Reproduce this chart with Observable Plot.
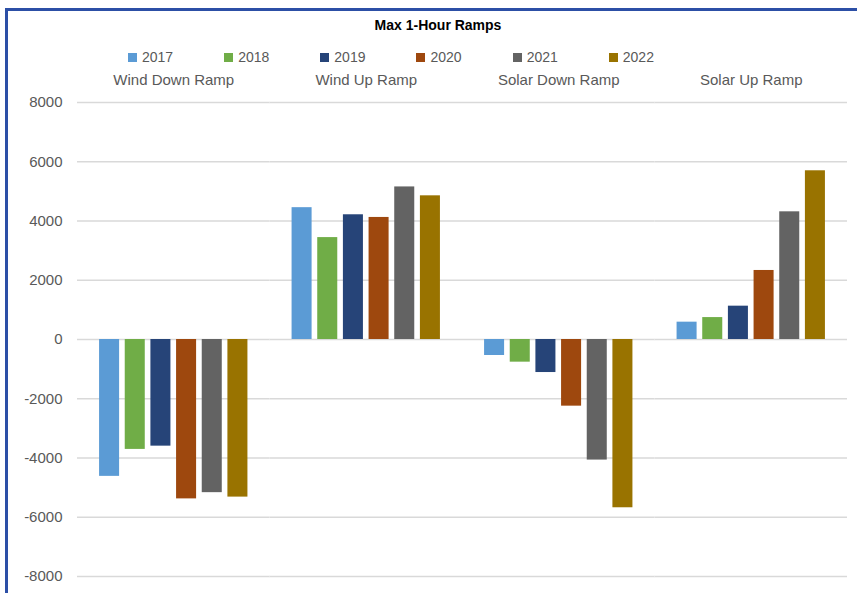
<!DOCTYPE html>
<html>
<head>
<meta charset="utf-8">
<script src="https://cdn.jsdelivr.net/npm/d3@7"></script>
<script src="https://cdn.jsdelivr.net/npm/@observablehq/plot@0.6"></script>
<style>
  html, body { margin: 0; padding: 0; background: #fff; }
  body { width: 857px; height: 593px; position: relative; overflow: hidden; font-family: "Liberation Sans", Arial, sans-serif; }
  #frame { position: absolute; left: 5px; top: 8px; width: 849px; height: 582px; border: 3px solid #2C4FA6; border-bottom-color: #b4c7e7; }
  #title { position: absolute; left: 238px; width: 400px; top: 17px; text-align: center; font-weight: bold; font-size: 14px; line-height: 16px; color: #000; }
  #legend { position: absolute; left: 128px; top: 49px; display: flex; gap: 51px; font-size: 14px; line-height: 16px; color: #595959; }
  #legend .item { display: flex; align-items: center; gap: 5px; }
  #legend .sw { width: 9px; height: 9px; display: inline-block; }
  #chart { position: absolute; left: 0; top: 66px; }
</style>
</head>
<body>
<div id="frame"></div>
<div id="title">Max 1-Hour Ramps</div>
<div id="legend"></div>
<div id="chart"></div>
<script>
const categories = ["Wind Down Ramp", "Wind Up Ramp", "Solar Down Ramp", "Solar Up Ramp"];
const years = ["2017", "2018", "2019", "2020", "2021", "2022"];
const colors = ["#5B9BD5", "#70AD47", "#264478", "#9E480E", "#636363", "#997300"];
const windDown = [-4620, -3710, -3600, -5380, -5170, -5320];
const windUp = [4450, 3440, 4210, 4120, 5150, 4850];
const solarDown = [-540, -765, -1115, -2250, -4070, -5680];
const solarUp = [585, 740, 1125, 2330, 4310, 5695];
const yTicks = [-8000, -6000, -4000, -2000, 0, 2000, 4000, 6000, 8000];

const series = [windDown, windUp, solarDown, solarUp];
const data = [];
categories.forEach((c, i) => years.forEach((y, j) => data.push({cat: c, year: y, value: series[i][j]})));

const legend = document.getElementById("legend");
years.forEach((y, j) => {
  const it = document.createElement("div");
  it.className = "item";
  it.innerHTML = `<span class="sw" style="background:${colors[j]}"></span><span>${y}</span>`;
  legend.appendChild(it);
});

const chart = Plot.plot({
  width: 857,
  height: 522,
  marginLeft: 77,
  marginRight: 10,
  marginTop: 36,
  marginBottom: 12,
  style: {fontSize: "15px", fontFamily: "'Liberation Sans', Arial, sans-serif", color: "#595959", background: "transparent"},
  fx: {domain: categories, padding: 0, label: null, round: false},
  x: {domain: years, paddingInner: 0.22, paddingOuter: 0.86, round: false, axis: null},
  y: {domain: [-8000, 8000], label: null},
  color: {domain: years, range: colors},
  marks: [
    Plot.gridY(yTicks, {stroke: "#d9d9d9", strokeOpacity: 1, strokeWidth: 1.3}),
    Plot.axisY(yTicks, {tickSize: 0, tickPadding: 15, tickFormat: d => String(d), label: null, fill: "#595959"}),
    Plot.axisFx({anchor: "top", tickSize: 0, tickPadding: 18, label: null, fill: "#595959"}),
    Plot.barY(data, {fx: "cat", x: "year", y: "value", fill: "year"})
  ]
});
document.getElementById("chart").appendChild(chart);
</script>
</body>
</html>
